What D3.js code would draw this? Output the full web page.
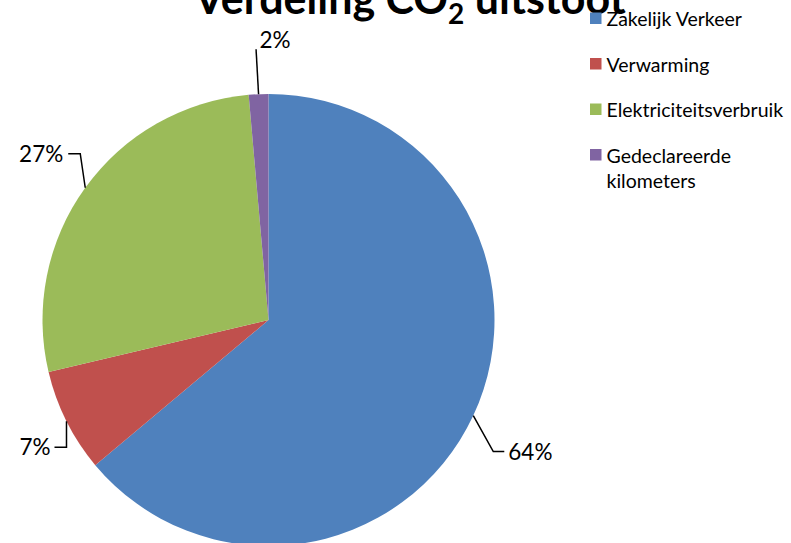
<!DOCTYPE html>
<html><head><meta charset="utf-8">
<script src="https://cdn.jsdelivr.net/npm/d3@7"></script>
<style>body{margin:0;background:#fff}svg{display:block}</style>
</head><body>
<svg id="c" width="791" height="543"></svg>
<script>
const categories = ["Zakelijk Verkeer", "Verwarming", "Elektriciteitsverbruik", "Gedeclareerde kilometers"];
const values = [63.9, 7.4, 27.3, 1.4];
const labels = ["64%", "7%", "27%", "2%"];
const colors = ["#4F81BD", "#C0504D", "#9BBB59", "#8064A2"];
const legendLines = [["Zakelijk Verkeer"], ["Verwarming"], ["Elektriciteitsverbruik"], ["Gedeclareerde", "kilometers"]];

const svg = d3.select("#c");
const font = "Lato, 'Open Sans', sans-serif";
const cx = 268.5, cy = 320, r = 226;

const pie = d3.pie().sort(null).value(d => d)(values);
const arc = d3.arc().innerRadius(0).outerRadius(r);
const g = svg.append("g").attr("transform", `translate(${cx},${cy})`);
g.selectAll("path").data(pie).join("path")
  .attr("d", arc).attr("fill", (d, i) => colors[i]);

// leader lines
function pt(a, rr) { return [rr * Math.sin(a), -rr * Math.cos(a)]; }
const lab = svg.append("g");
pie.forEach((d, i) => {
  const m = (d.startAngle + d.endAngle) / 2;
  const [x0, y0] = pt(m, r).map((v, k) => v + (k ? cy : cx));
  let pts, tx, ty, anchor;
  if (i === 0) { pts = [[x0, y0], [x0 + 20, y0 + 36], [x0 + 31, y0 + 36]]; tx = x0 + 35; ty = y0 + 44; anchor = "start"; }
  else if (i === 1) { pts = [[x0, y0], [x0, y0 + 26], [x0 - 12, y0 + 26]]; tx = x0 - 16; ty = y0 + 34; anchor = "end"; }
  else if (i === 2) { pts = [[x0, y0], [x0 - 5, y0 - 34], [x0 - 17, y0 - 34]]; tx = x0 - 22; ty = y0 - 26; anchor = "end"; }
  else { pts = [[x0, y0], [x0 - 2.5, y0 - 45]]; tx = x0 + 1; ty = y0 - 46; anchor = "start"; }
  lab.append("path").attr("d", d3.line()(pts)).attr("fill", "none").attr("stroke", "#000").attr("stroke-width", 1.5);
  lab.append("text").attr("x", tx).attr("y", ty).attr("text-anchor", anchor)
    .attr("font-family", font).attr("font-size", 22.5).attr("fill", "#000").text(labels[i]);
});

// title (cut off at the top edge, as in the reference)
const t = svg.append("text").attr("x", 410).attr("y", 14).attr("text-anchor", "middle")
  .attr("font-family", font).attr("font-weight", "bold").attr("font-size", 43).attr("fill", "#000");
t.append("tspan").text("Verdeling CO");
t.append("tspan").attr("dy", 10).attr("font-size", 28).text("2");
t.append("tspan").attr("dy", -10).text(" uitstoot");

// legend
const rowY = [26, 71.5, 117, 162.5];
const leg = svg.append("g");
categories.forEach((c, i) => {
  leg.append("rect").attr("x", 590).attr("y", rowY[i] - 13.5).attr("width", 11.5).attr("height", 11.5).attr("fill", colors[i]);
  legendLines[i].forEach((ln, j) => {
    leg.append("text").attr("x", 606.5).attr("y", rowY[i] + j * 25.5)
      .attr("font-family", font).attr("font-size", 19.5).attr("fill", "#000").text(ln);
  });
});
</script>
</body></html>
